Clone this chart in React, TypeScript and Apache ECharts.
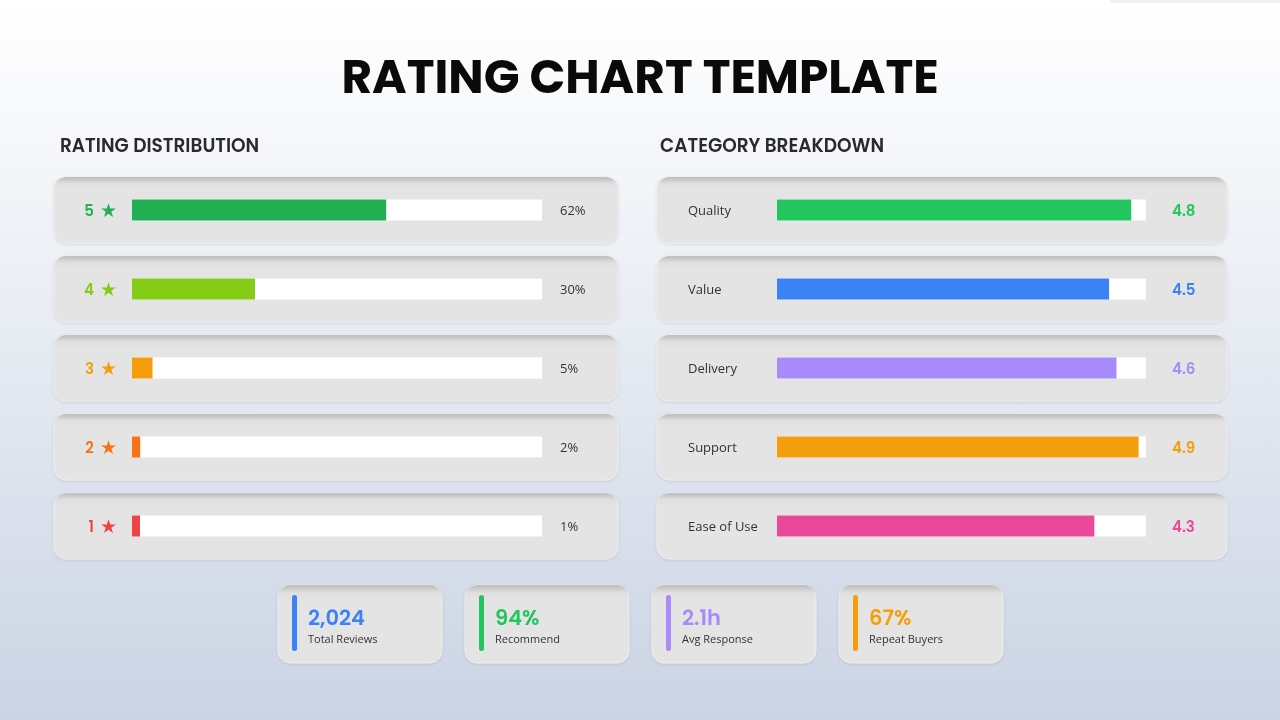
import React, { useEffect, useRef } from "react";
import * as echarts from "echarts";

const ratingLabels = ["5", "4", "3", "2", "1"];
const ratingValues = [62, 30, 5, 2, 1];
const ratingColors = ["#22b055", "#84cc16", "#f59e0b", "#f97316", "#ef4444"];

const categoryNames = ["Quality", "Value", "Delivery", "Support", "Ease of Use"];
const categoryScores = [4.8, 4.5, 4.6, 4.9, 4.3];
const categoryColors = ["#22c55e", "#3b82f6", "#a78bfa", "#f59e0b", "#ec4899"];

const statValues = ["2,024", "94%", "2.1h", "67%"];
const statLabels = ["Total Reviews", "Recommend", "Avg Response", "Repeat Buyers"];
const statColors = ["#3b82f6", "#22c55e", "#a78bfa", "#f59e0b"];

const TITLE_FONT = "Poppins, Inter, 'Open Sans', sans-serif";
const BODY_FONT = "'Open Sans', 'Noto Sans', sans-serif";

function card(x: number, y: number, w: number, h: number) {
  return [
    {
      type: "rect",
      z: 1,
      shape: { x, y, width: w, height: h, r: 12 },
      style: {
        fill: "#e4e4e4",
        stroke: "#ececec",
        lineWidth: 1,
        shadowBlur: 3,
        shadowColor: "rgba(0,0,0,0.10)",
        shadowOffsetY: 1,
      },
    },
    {
      type: "rect",
      z: 1,
      shape: { x, y, width: w, height: h, r: 12 },
      style: {
        fill: {
          type: "linear",
          x: 0,
          y: 0,
          x2: 0,
          y2: 1,
          colorStops: [
            { offset: 0, color: "rgba(0,0,0,0.18)" },
            { offset: 0.1, color: "rgba(0,0,0,0.02)" },
            { offset: 0.2, color: "rgba(0,0,0,0)" },
            { offset: 1, color: "rgba(0,0,0,0)" },
          ],
        },
      },
    },
  ];
}

export default function App() {
  const ref = useRef<HTMLDivElement>(null);

  useEffect(() => {
    if (!ref.current) return;
    const chart = echarts.init(ref.current, undefined, { renderer: "svg" });

    const rowPitch = 79;
    const firstCenter = 210;
    const gridTop = firstCenter - rowPitch / 2;
    const gridHeight = rowPitch * 5;

    const graphics: any[] = [
      {
        type: "rect",
        z: 0,
        shape: { x: 0, y: 0, width: 1280, height: 720 },
        style: {
          fill: {
            type: "linear",
            x: 0,
            y: 0,
            x2: 0,
            y2: 1,
            colorStops: [
              { offset: 0, color: "#ffffff" },
              { offset: 0.15, color: "#f8f9fb" },
              { offset: 1, color: "#cbd4e4" },
            ],
          },
        },
      },
      {
        type: "rect",
        z: 0,
        shape: { x: 1110, y: 0, width: 170, height: 3 },
        style: { fill: "#eef0f3" },
      },
      {
        type: "text",
        z: 3,
        x: 640,
        y: 76,
        style: {
          text: "RATING CHART TEMPLATE",
          font: `700 47px ${TITLE_FONT}`,
          fill: "#0a0a0a",
          align: "center",
          verticalAlign: "middle",
        },
      },
      {
        type: "text",
        z: 3,
        x: 60,
        y: 145,
        style: {
          text: "RATING DISTRIBUTION",
          font: `600 18.5px ${TITLE_FONT}`,
          fill: "#2a2a2a",
          verticalAlign: "middle",
        },
      },
      {
        type: "text",
        z: 3,
        x: 660,
        y: 145,
        style: {
          text: "CATEGORY BREAKDOWN",
          font: `600 18.5px ${TITLE_FONT}`,
          fill: "#2a2a2a",
          verticalAlign: "middle",
        },
      },
    ];

    for (let i = 0; i < 5; i++) {
      const cy = firstCenter + i * rowPitch;
      graphics.push(...card(54, cy - 33, 564, 66));
      graphics.push(...card(657, cy - 33, 570, 66));
    }

    const statX = [278, 465, 652, 839];
    statValues.forEach((v, i) => {
      const x = statX[i];
      graphics.push(...card(x, 585, 164, 78));
      graphics.push({
        type: "rect",
        z: 3,
        shape: { x: x + 14, y: 595, width: 5, height: 56, r: 2.5 },
        style: { fill: statColors[i] },
      });
      graphics.push({
        type: "text",
        z: 3,
        x: x + 30,
        y: 617,
        style: {
          text: v,
          font: `600 21px ${TITLE_FONT}`,
          fill: statColors[i],
          verticalAlign: "middle",
        },
      });
      graphics.push({
        type: "text",
        z: 3,
        x: x + 30,
        y: 638,
        style: {
          text: statLabels[i],
          font: `400 11px ${BODY_FONT}`,
          fill: "#333333",
          verticalAlign: "middle",
        },
      });
    });

    const leftRich: any = {};
    ratingColors.forEach((c, i) => {
      leftRich["n" + i] = { color: c, fontSize: 15, fontWeight: 600, fontFamily: TITLE_FONT, padding: [0, 6, 0, 0] };
      leftRich["s" + i] = { color: c, fontSize: 19, fontFamily: "DejaVu Sans" };
    });
    const rightRich: any = {};
    categoryColors.forEach((c, i) => {
      rightRich["v" + i] = { color: c, fontSize: 15, fontWeight: 600, fontFamily: TITLE_FONT };
    });

    const hiddenAxis = {
      axisLine: { show: false },
      axisTick: { show: false },
      splitLine: { show: false },
    };

    chart.setOption({
      animation: false,
      graphic: { elements: graphics },
      grid: [
        { left: 132, width: 410, top: gridTop, height: gridHeight },
        { left: 777, width: 369, top: gridTop, height: gridHeight },
      ],
      xAxis: [
        { type: "value", gridIndex: 0, min: 0, max: 100, show: false },
        { type: "value", gridIndex: 1, min: 0, max: 5, show: false },
      ],
      yAxis: [
        {
          type: "category",
          gridIndex: 0,
          inverse: true,
          z: 5,
          data: ratingLabels,
          ...hiddenAxis,
          axisLabel: {
            margin: 15,
            formatter: (val: string, idx: number) => `{n${idx}|${val}}{s${idx}|★}`,
            rich: leftRich,
          },
        },
        {
          type: "category",
          gridIndex: 0,
          inverse: true,
          position: "right",
          z: 5,
          data: ratingValues.map((v) => `${v}%`),
          ...hiddenAxis,
          axisLabel: {
            margin: 18,
            color: "#333333",
            fontSize: 13,
            fontFamily: BODY_FONT,
          },
        },
        {
          type: "category",
          gridIndex: 1,
          inverse: true,
          z: 5,
          data: categoryNames,
          ...hiddenAxis,
          axisLabel: {
            margin: 89,
            align: "left",
            color: "#333333",
            fontSize: 13,
            fontFamily: BODY_FONT,
          },
        },
        {
          type: "category",
          gridIndex: 1,
          inverse: true,
          position: "right",
          z: 5,
          data: categoryScores.map((v) => v.toFixed(1)),
          ...hiddenAxis,
          axisLabel: {
            margin: 26,
            formatter: (val: string, idx: number) => `{v${idx}|${val}}`,
            rich: rightRich,
          },
        },
      ],
      series: [
        {
          type: "bar",
          xAxisIndex: 0,
          yAxisIndex: 0,
          z: 4,
          barWidth: 21,
          barMinHeight: 8,
          showBackground: true,
          backgroundStyle: { color: "#ffffff" },
          data: ratingValues.map((v, i) => ({ value: v, itemStyle: { color: ratingColors[i] } })),
        },
        {
          type: "bar",
          xAxisIndex: 1,
          yAxisIndex: 2,
          z: 4,
          barWidth: 21,
          showBackground: true,
          backgroundStyle: { color: "#ffffff" },
          data: categoryScores.map((v, i) => ({ value: v, itemStyle: { color: categoryColors[i] } })),
        },
      ],
    });

    return () => chart.dispose();
  }, []);

  return (
    <div
      ref={ref}
      style={{ position: "fixed", left: 0, top: 0, width: 1280, height: 720 }}
    />
  );
}
